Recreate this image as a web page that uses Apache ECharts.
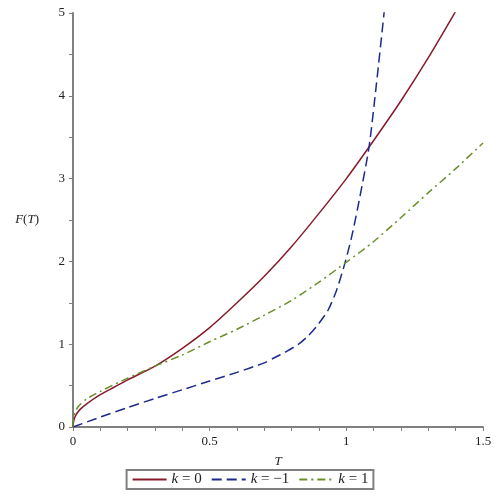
<!DOCTYPE html>
<html>
<head>
<meta charset="utf-8">
<script src="https://cdn.jsdelivr.net/npm/echarts@6/dist/echarts.min.js"></script>
<style>
  html, body { margin: 0; padding: 0; background: #fff; }
  #chart { width: 500px; height: 500px; }
</style>
</head>
<body>
<div id="chart"></div>
<script>
// values
var tK0 = [0, 0.003, 0.01, 0.025, 0.05, 0.1, 0.15, 0.2, 0.3, 0.4, 0.5, 0.6, 0.7, 0.8, 0.9, 1.0, 1.1, 1.2, 1.3, 1.4];
var fK0 = [0, 0.08, 0.14, 0.21, 0.28, 0.39, 0.48, 0.57, 0.735, 0.95, 1.2, 1.5, 1.82, 2.18, 2.58, 3.0, 3.46, 3.94, 4.46, 5.02];

var tKm1 = [0, 0.1, 0.2, 0.3, 0.4, 0.5, 0.6, 0.7, 0.733, 0.78, 0.829, 0.86, 0.89, 0.933, 0.964, 0.994, 1.019, 1.049, 1.083, 1.11, 1.138, 1.15];
var fKm1 = [0, 0.12, 0.235, 0.345, 0.45, 0.555, 0.66, 0.775, 0.83, 0.91, 1.01, 1.1, 1.21, 1.41, 1.65, 1.97, 2.29, 2.77, 3.38, 4.14, 5.0, 5.4];

var tK1 = [0, 0.002, 0.008, 0.02, 0.05, 0.1, 0.2, 0.3, 0.4, 0.5, 0.6, 0.7, 0.8, 0.9, 1.0, 1.1, 1.2, 1.3, 1.4, 1.5];
var fK1 = [0, 0.12, 0.18, 0.25, 0.34, 0.43, 0.59, 0.735, 0.87, 1.03, 1.18, 1.35, 1.53, 1.75, 1.99, 2.24, 2.53, 2.83, 3.12, 3.43];

var seriesNames = ["k = 0", "k = −1", "k = 1"];

function pairs(t, f) {
  return t.map(function (v, i) { return [v, f[i]]; });
}

var serif = "Liberation Serif";
var axisGrey = "#808080";

var myChart = echarts.init(document.getElementById("chart"));
myChart.setOption({
  animation: false,
  grid: {
    left: 73,
    right: 17,
    top: 13,
    bottom: 73,
  },
  xAxis: {
    type: "value",
    min: 0,
    max: 1.5,
    interval: 0.5,
    name: "T",
    nameLocation: "middle",
    nameGap: 28,
    nameTextStyle: {
      fontFamily: serif,
      fontStyle: "italic",
      fontSize: 13,
      color: "#222",
    },
    axisLine: { lineStyle: { color: axisGrey, width: 2 } },
    axisTick: { length: 4, lineStyle: { color: axisGrey } },
    minorTick: { show: true, splitNumber: 5, length: 4, lineStyle: { color: axisGrey } },
    splitLine: { show: false },
    axisLabel: {
      margin: 8,
      fontFamily: serif,
      fontSize: 13,
      color: "#222",
    },
  },
  yAxis: {
    type: "value",
    min: 0,
    max: 5,
    interval: 1,
    name: "{i|F}({i|T})",
    nameLocation: "middle",
    nameRotate: 0,
    nameGap: 34,
    nameTextStyle: {
      fontFamily: serif,
      fontSize: 13,
      color: "#222",
      rich: {
        i: { fontFamily: serif, fontStyle: "italic", fontSize: 13, color: "#222" },
      },
    },
    axisLine: { show: true, lineStyle: { color: axisGrey, width: 2 } },
    axisTick: { show: true, length: 4, lineStyle: { color: axisGrey } },
    minorTick: { show: true, splitNumber: 2, length: 4, lineStyle: { color: axisGrey } },
    splitLine: { show: false },
    axisLabel: {
      margin: 8,
      fontFamily: serif,
      fontSize: 13,
      color: "#222",
    },
  },
  legend: {
    data: seriesNames,
    left: "center",
    top: 470,
    orient: "horizontal",
    padding: [2, 5],
    itemWidth: 34,
    itemHeight: 14,
    itemGap: 9,
    borderColor: axisGrey,
    borderWidth: 2,
    borderRadius: 0,
    itemStyle: { opacity: 0 },
    formatter: function (name) {
      return "{i|k}" + name.slice(1);
    },
    textStyle: {
      fontFamily: serif,
      fontSize: 15,
      color: "#222",
      rich: {
        i: { fontFamily: serif, fontStyle: "italic", fontSize: 15, color: "#222" },
      },
    },
  },
  series: [
    {
      name: seriesNames[0],
      type: "line",
      data: pairs(tK0, fK0),
      symbol: "none",
      smooth: 0.25,
      lineStyle: { color: "#861b2b", width: 1.5 },
      itemStyle: { color: "#861b2b" },
    },
    {
      name: seriesNames[1],
      type: "line",
      data: pairs(tKm1, fKm1),
      symbol: "none",
      smooth: 0.25,
      lineStyle: { color: "#1c2a8c", width: 1.5, type: [10, 5] },
      itemStyle: { color: "#1c2a8c" },
    },
    {
      name: seriesNames[2],
      type: "line",
      data: pairs(tK1, fK1),
      symbol: "none",
      smooth: 0.25,
      lineStyle: { color: "#6a8f2a", width: 1.5, type: [8, 4, 2, 4] },
      itemStyle: { color: "#6a8f2a" },
    },
  ],
});
</script>
</body>
</html>
